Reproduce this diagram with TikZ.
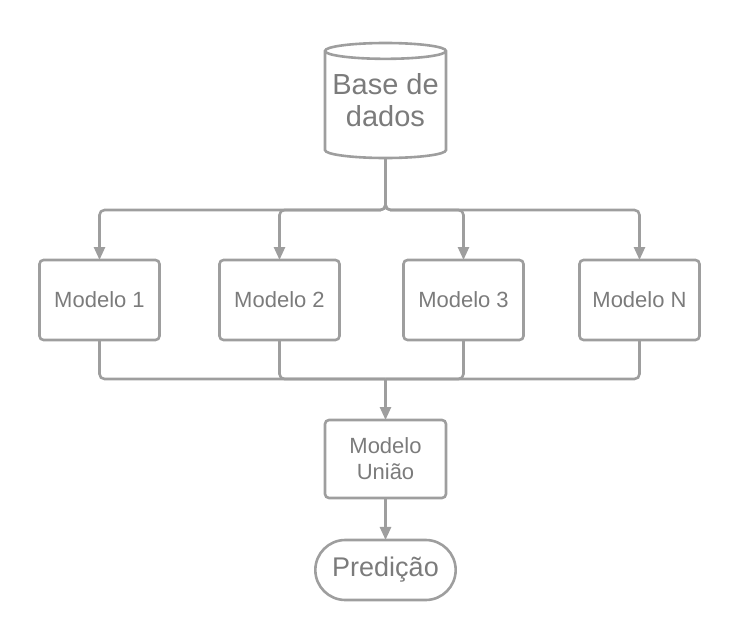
\documentclass[tikz,border=0pt]{standalone}
\usepackage{fontspec}
\setmainfont{Liberation Sans}
\usetikzlibrary{positioning,shapes.geometric,shapes.misc,arrows.meta}
\definecolor{edgegray}{HTML}{9E9E9E}
\definecolor{labelgray}{HTML}{7B7B7B}

\begin{document}
\begin{tikzpicture}[x=1pt,y=-1pt,->,>={Triangle[length=13pt,width=11pt]},line width=2.6pt,color=edgegray,
  modelo/.style={rectangle,rounded corners=4pt,draw=edgegray,minimum width=120pt,minimum height=80pt,
    text=labelgray,font=\fontsize{22}{26}\selectfont,align=center,outer sep=0pt},
  base/.style={cylinder,shape border rotate=90,aspect=0.14,draw=edgegray,minimum width=121pt,minimum height=115pt,
    text=labelgray,font=\fontsize{29}{32}\selectfont,align=center,text depth=13pt,outer sep=0pt},
  saida/.style={rounded rectangle,draw=edgegray,minimum width=147pt,minimum height=60pt,
    text=labelgray,font=\fontsize{27}{30}\selectfont,outer sep=0pt}]
  \useasboundingbox (0,0) rectangle (740,640);

  \node[base,anchor=shape center] (db) at (385.5,100.5) {Base de\\dados};
  \node[modelo] (m1) at (99.5,300) {Modelo 1};
  \node[modelo] (m2) [right=60pt of m1] {Modelo 2};
  \node[modelo] (m3) [right=64pt of m2] {Modelo 3};
  \node[modelo] (mN) [right=56pt of m3] {Modelo N};
  \node[modelo,minimum width=121pt,minimum height=78pt] (uniao) at (385.5,459) {Modelo\\União};
  \node[saida] (pred) [below=42pt of uniao] {Predição};

  \coordinate (split) at (385.5,210);
  \coordinate (join) at (385.5,379);

  % da base para cada modelo
  \foreach \m in {m1,m2,m3,mN}
    \draw[rounded corners=5pt] (db.south) -- (split) -| (\m.north);

  % dos modelos para a uniao
  \foreach \m in {m1,m2,m3,mN}
    \draw[-,rounded corners=5pt] (\m.south) |- (join);
  \draw[rounded corners=5pt] (join) -- (uniao.north);

  \draw (uniao) -- (pred);
\end{tikzpicture}
\end{document}
